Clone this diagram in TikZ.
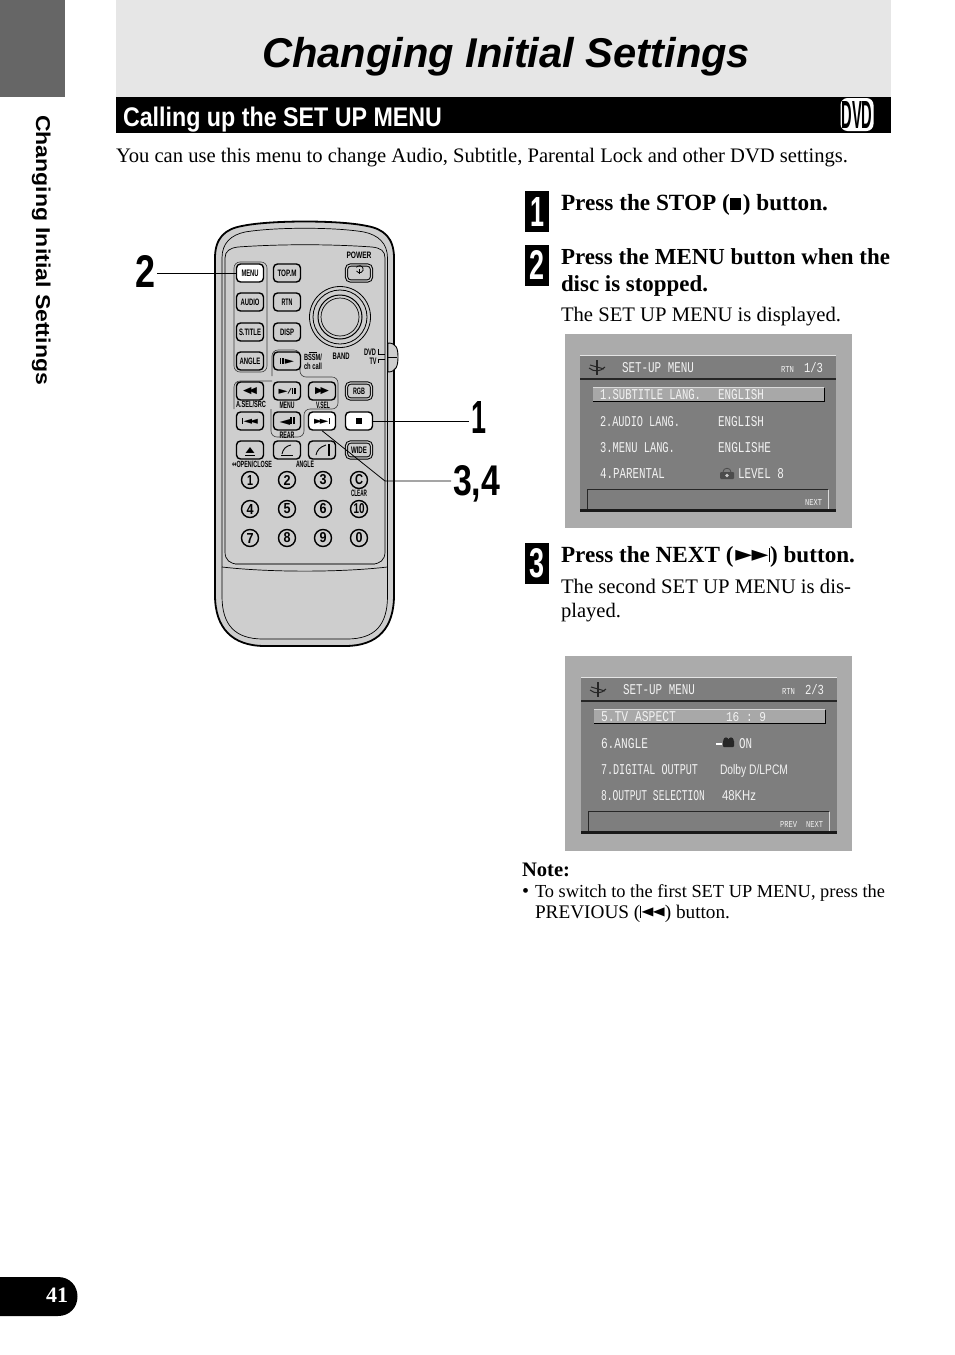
\documentclass[tikz,border=0pt]{standalone}
\usepackage{fontspec}
\usepackage{graphicx}
\setmainfont{Liberation Serif}
\setsansfont{Liberation Sans}
\setmonofont{Liberation Mono}
\newfontfamily\sym{DejaVu Sans}
\definecolor{tabgray}{HTML}{666666}
\definecolor{headgray}{HTML}{E6E6E6}
\definecolor{bodygray}{HTML}{CECECE}
\definecolor{scrouter}{HTML}{ABABAB}
\definecolor{scrinner}{HTML}{7E7E7E}
\definecolor{scrbar}{HTML}{A8A8A8}
\definecolor{scrtext}{HTML}{F2F2F2}
\tikzset{
  txt/.style={anchor=base west,inner sep=0pt,outer sep=0pt},
  scr/.style={txt,text=scrtext},
  btn/.style={draw=black,line width=1.4pt,rounded corners=4pt,fill=bodygray,minimum width=27pt,minimum height=18pt,inner sep=0pt},
  btnw/.style={btn,fill=white},
  btnd/.style={btn,double=bodygray,double distance=1.2pt,line width=1pt,minimum width=25pt,minimum height=16pt},
  num/.style={circle,draw=black,line width=1.4pt,fill=bodygray,minimum size=17pt,inner sep=0pt},
  lab/.style={inner sep=0pt,outer sep=0pt},
  grp/.style={draw=black!75,line width=.6pt,rounded corners=6pt},
  badge/.style={fill=black,text=white,minimum width=24pt,minimum height=41pt,inner sep=0pt},
  lead/.style={draw=black,line width=.8pt},
  rem/.style={draw=black,line width=.7pt}
}
% name x y width text : proportional fit
\newcommand{\W}[5]{\node[txt] (#1) at (#2,#3) {\resizebox{#4pt}{!}{#5}};}
% name x y width height text, on the screens, monospaced and proportional
\newcommand{\Sc}[6]{\node[scr] (#1) at (#2,#3) {\resizebox{#4pt}{#5pt}{\ttfamily #6}};}
\newcommand{\Sp}[6]{\node[scr] (#1) at (#2,#3) {\resizebox{#4pt}{#5pt}{\sffamily #6}};}
% small bold remote text
\newcommand{\bt}[2]{\resizebox{#1pt}{6.5pt}{\sffamily\bfseries #2}}
\newcommand{\ic}[3]{\resizebox{#1pt}{#2pt}{\sym #3}}
\newcommand{\dg}[2]{\resizebox{#1pt}{10pt}{\sffamily\bfseries #2}}
\newcommand{\scrframe}{%
  \fill[scrinner] (580,355) rectangle (836,512);
  \draw[white!90!black,line width=1.5pt] (580,355.5) -- (836,355.5);
  \draw[black!85,line width=2pt] (580,379) -- (836,379);
  \fill[scrbar] (593,387) rectangle (824,401);
  \draw[white!85!black,line width=.8pt] (593,387) -- (824,387);
  \draw[black,line width=1.4pt] (593,401.5) -- (824.5,401.5) -- (824.5,388);
  \draw[black!85,line width=1pt] (587.5,509) -- (587.5,489.5) -- (828,489.5);
  \draw[white!85!black,line width=.8pt] (828.5,489.5) -- (828.5,509);
  \draw[black!90,line width=2.5pt] (580,510.5) -- (836,510.5);
  % disc emblem
  \draw[black!85,line width=1pt] (589,368) .. controls (594,372) and (600,372) .. (605,367);
  \draw[black!85,line width=1.2pt] (597,360) -- (597,375);
  \draw[black!85,line width=1pt] (590,365) -- (604,369);
}
\begin{document}
\begin{tikzpicture}[x=1pt,y=-1pt]
\useasboundingbox (0,0) rectangle (954,1355);
\fill[white] (0,0) rectangle (954,1355);
% page furniture
\fill[tabgray] (0,0) rectangle (65,97);
\fill[headgray] (116,0) rectangle (891,97);
\fill[black] (116,97) rectangle (891,133);
\W{title}{262}{67}{488}{\sffamily\bfseries\itshape Changing Initial Settings}
\node[txt,text=white] (heading) at (123,126) {\resizebox{319pt}{19.5pt}{\sffamily\bfseries Calling up the SET UP MENU}};
\node[fill=white,rounded corners=7pt,minimum width=33pt,minimum height=33pt,inner sep=0pt] (dvdlogo) at (857,114.5) {\resizebox{31pt}{27pt}{\sffamily\bfseries DVD}};
\node[txt,rotate=-90] (side) at (36,115) {\resizebox{270pt}{14.5pt}{\sffamily\bfseries Changing Initial Settings}};
\fill[black] (0,1277) -- (58,1277) .. controls (70,1277) and (77.5,1286) .. (77.5,1296.5) .. controls (77.5,1307) and (70,1316) .. (58,1316) -- (0,1316) -- cycle;
\node[lab,text=white] (pageno) at (57,1295) {\resizebox{22pt}{!}{\bfseries 41}};
\W{intro}{116}{162}{732}{You can use this menu to change Audio, Subtitle, Parental Lock and other DVD settings.}
% steps
\node[badge] (b1) at (537,211.5) {\resizebox{14pt}{29pt}{\sffamily\bfseries 1}};
\node[badge] (b2) at (537,265) {\resizebox{15pt}{29pt}{\sffamily\bfseries 2}};
\node[badge] (b3) at (537,563.5) {\resizebox{15pt}{29pt}{\sffamily\bfseries 3}};
\W{s1}{561}{210}{267}{\bfseries Press the STOP (\rule{.5em}{.5em}\kern.06em) button.}
\W{s2a}{561}{264}{329}{\bfseries Press the MENU button when the}
\W{s2b}{561}{291}{147}{\bfseries disc is stopped.}
\W{s2c}{561}{321}{280}{The SET UP MENU is displayed.}
\W{s3a}{561}{562}{294}{\bfseries Press the NEXT ({\sym\kern.08em\raisebox{.12em}{\scalebox{.95}[.62]{▶}}\kern-.03em\raisebox{.12em}{\scalebox{.95}[.62]{▶}}\kern.02em\rule[.02em]{.05em}{.6em}}) button.}
\W{s3b}{561}{593}{290}{The second SET UP MENU is dis-}
\W{s3c}{561}{617}{60}{played.}
\W{note}{522}{876}{48}{\bfseries Note:}
\W{bullet}{522}{897}{7}{•}
\W{n1}{535}{897}{350}{To switch to the first SET UP MENU, press the}
\W{n2}{535}{918}{195}{PREVIOUS ({\sym\rule[.02em]{.05em}{.6em}\kern.02em\raisebox{.12em}{\scalebox{.8}[.62]{◀}}\kern-.03em\raisebox{.12em}{\scalebox{.8}[.62]{◀}}}) button.}
% screen one
\fill[scrouter] (565,334) rectangle (852,528);
\scrframe
\Sc{a0}{622}{372}{72}{10}{SET-UP MENU}
\Sc{a1}{781}{372}{13}{6}{RTN}
\Sc{a2}{804}{372}{19}{10}{1/3}
\Sc{a3}{600}{399}{101}{10}{1.SUBTITLE LANG.}
\Sc{a4}{718}{399}{46}{10}{ENGLISH}
\Sc{a5}{600}{426}{80}{10}{2.AUDIO LANG.}
\Sc{a6}{718}{426}{46}{10}{ENGLISH}
\Sc{a7}{600}{452}{75}{10}{3.MENU LANG.}
\Sc{a8}{718}{452}{53}{10}{ENGLISHE}
\Sc{a9}{600}{478}{65}{10}{4.PARENTAL}
\Sc{a10}{738}{478}{46}{10}{LEVEL 8}
\Sc{a11}{805}{505}{17}{6}{NEXT}
\fill[black!70,rounded corners=1pt] (720,472) rectangle (734,479);
\draw[black!70,line width=.8pt] (723,472) .. controls (723,467) and (731,467) .. (731,472);
\fill[white!80!black] (727,475.5) circle[radius=1.8pt];
% screen two
\fill[scrouter] (565,656) rectangle (852,851);
\begin{scope}[shift={(1,322)}]
\scrframe
\end{scope}
\Sc{c0}{623}{694}{72}{10}{SET-UP MENU}
\Sc{c1}{782}{694}{13}{6}{RTN}
\Sc{c2}{805}{694}{19}{10}{2/3}
\Sc{c3}{601}{721}{75}{10}{5.TV ASPECT}
\Sc{c4}{726}{721}{40}{9}{16 : 9}
\Sc{c5}{601}{748}{47}{10}{6.ANGLE}
\Sc{c6}{739}{748}{13}{10}{ON}
\Sc{c7}{601}{774}{97}{10}{7.DIGITAL OUTPUT}
\Sp{c8}{720}{774}{68}{10}{Dolby D/LPCM}
\Sc{c9}{601}{800}{104}{10}{8.OUTPUT SELECTION}
\Sp{c10}{722}{800}{34}{10}{48KHz}
\Sc{c11}{780}{827}{17}{6}{PREV}
\Sc{c12}{806}{827}{17}{6}{NEXT}
\fill[black!85,rounded corners=1pt] (723,740) rectangle (734,747);
\fill[black!85] (726,740) circle[radius=2.6pt] (731,740) circle[radius=2.6pt];
\fill[white] (716,743) rectangle (722,744.5);
% remote body
\path[fill=bodygray,draw=black,line width=1.8pt]
  (215,595) -- (215,258) .. controls (215,238) and (225,229) .. (242,226) .. controls (270,220) and (340,220) .. (367,226)
  .. controls (384,229) and (394,238) .. (394,258) -- (394,595) .. controls (394,628) and (378,646) .. (345,646)
  -- (265,646) .. controls (232,646) and (215,628) .. (215,595) -- cycle;
\draw[rem] (222,567) -- (222,258) .. controls (222,243) and (231,235) .. (245,232) .. controls (275,227) and (335,227) .. (364,232)
  .. controls (378,235) and (387.5,243) .. (387.5,258) -- (387.5,567);
\draw[rem] (225,552) -- (225,258) .. controls (225,251) and (230,248) .. (238,247) .. controls (280,244) and (330,244) .. (372,247)
  .. controls (381,248) and (385,251) .. (385,258) -- (385,552) .. controls (385,560) and (380,564) .. (372,564)
  -- (238,564) .. controls (230,564) and (225,560) .. (225,552) -- cycle;
\draw[black!55,line width=1.3pt] (235,564) -- (375,564);
\draw[rem] (222,567) .. controls (270,572.5) and (340,572.5) .. (387.5,567);
\draw[rem] (222,567) -- (222,596) .. controls (222,625) and (235,639) .. (263,639) -- (347,639) .. controls (375,639) and (387.5,625) .. (387.5,596) -- (387.5,567);
% switch
\path[fill=bodygray,draw=black,line width=.9pt] (388,343) .. controls (396,343) and (398,348) .. (398,357) .. controls (398,366) and (396,372) .. (388,372) -- cycle;
\draw[black,line width=1pt] (388,357) -- (397,357);
% group outlines
\draw[grp] (234,262) rectangle (267,372);
\draw[grp] (272,376) -- (272,350) -- (300,350) -- (300,377) -- (338,377) -- (338,409) -- (304,409) -- (304,437) -- (271,437) -- (271,409);
\draw[grp] (234,409) -- (234,381) -- (272,381);
% buttons
\node[btnw] (menu) at (250,273) {\bt{17}{MENU}};
\node[btn] (topm) at (287,273) {\bt{19}{TOP.M}};
\node[btnd] (power) at (359,273) {};
\draw[black,line width=.8pt] (356.5,271) arc[start angle=-150,end angle=150,radius=3.6pt];
\draw[black,line width=.8pt] (359.5,269) -- (359.5,273.5);
\node[btn] (audio) at (250,302) {\bt{19}{AUDIO}};
\node[btn] (rtn) at (287,302) {\bt{11}{RTN}};
\node[btn] (stitle) at (250,332) {\bt{22}{S.TITLE}};
\node[btn] (disp) at (287,332) {\bt{14}{DISP}};
\node[btn] (angle) at (250,361) {\bt{21}{ANGLE}};
\node[btn] (slow) at (287,361) {\ic{14}{6}{\rule{.12em}{.9em}\kern.08em\rule{.12em}{.9em}\kern.08em▶}};
\node[btn] (rew) at (250,391) {\ic{14}{6}{◀\kern-.25em◀}};
\node[btn] (play) at (287,391) {\ic{17}{6}{▶/\rule{.12em}{.9em}\kern.08em\rule{.12em}{.9em}}};
\node[btn] (ff) at (322,391) {\ic{14}{6}{▶\kern-.25em▶}};
\node[btnd] (rgb) at (359,391) {\bt{12}{RGB}};
\node[btn] (prev) at (250,421) {\ic{16}{6}{\rule{.1em}{.9em}\kern.05em◀\kern-.25em◀}};
\node[btn] (stepb) at (287,421) {\ic{15}{7}{◀\rule{.12em}{.9em}\kern.08em\rule{.12em}{.9em}}};
\node[btnw] (next) at (322,421) {\ic{16}{6}{▶\kern-.25em▶\kern.05em\rule{.1em}{.9em}}};
\node[btnw] (stop) at (359,421) {\rule{6pt}{6pt}};
\node[btn] (eject) at (250,450) {\ic{9}{5}{▲}};
\node[btn] (angl) at (287,450) {};
\node[btn] (angr) at (322,450) {};
\node[btnd] (wide) at (359,450) {\bt{16}{WIDE}};
\draw[black,line width=1pt] (245,455) -- (255,455);
\draw[black,line width=.9pt] (281,455) -- (293,455);
\draw[black,line width=.9pt] (282,454) .. controls (283,449) and (286,446) .. (291,445);
\draw[black,line width=.9pt] (316,455) .. controls (317,450) and (320,447) .. (326,445);
\draw[black,line width=1.4pt] (329,444) -- (329,456);
% number keys
\node[num] (k1) at (250,480) {\dg{6}{1}};
\node[num] (k2) at (287,480) {\dg{7}{2}};
\node[num] (k3) at (323,480) {\dg{7}{3}};
\node[num] (kc) at (359,480) {\dg{8}{C}};
\node[num] (k4) at (250,509) {\dg{7}{4}};
\node[num] (k5) at (287,509) {\dg{7}{5}};
\node[num] (k6) at (323,509) {\dg{7}{6}};
\node[num] (k10) at (359,509) {\dg{11}{10}};
\node[num] (k7) at (250,538) {\dg{7}{7}};
\node[num] (k8) at (287,538) {\dg{7}{8}};
\node[num] (k9) at (323,538) {\dg{7}{9}};
\node[num] (k0) at (359,538) {\dg{7}{0}};
% dial
\node[circle,draw=black,line width=.8pt,minimum size=61pt,inner sep=0pt] (dial1) at (340,317) {};
\node[circle,draw=black,line width=.8pt,minimum size=54pt,inner sep=0pt] (dial2) at (340,317) {};
\node[circle,draw=black,line width=1pt,minimum size=44pt,inner sep=0pt] (dial3) at (340,317) {};
\node[circle,draw=black,line width=.7pt,minimum size=38pt,inner sep=0pt] (dial4) at (340,317) {};
% remote labels
\node[lab] (lpower) at (359,255.5) {\bt{25}{POWER}};
\node[lab] (lband) at (341,356) {\bt{17}{BAND}};
\node[lab] (lbssm) at (313,357.5) {\bt{18}{BSSM/}};
\node[lab] (lcall) at (313,366) {\bt{18}{ch call}};
\draw[black,line width=.5pt] (309,352) -- (317,352);
\node[lab] (ldvd) at (370,352) {\bt{12}{DVD}};
\node[lab] (ltv) at (373,361) {\bt{7}{TV}};
\draw[black,line width=.7pt] (378,349) -- (378,354) -- (385,354);
\draw[black,line width=.7pt] (385,359) -- (378,359) -- (378,363);
\node[lab] (lasel) at (251,404) {\bt{30}{A.SEL/SRC}};
\node[lab] (lmenu) at (287,405) {\bt{15}{MENU}};
\node[lab] (lvsel) at (323,405) {\bt{14}{V.SEL}};
\node[lab] (lrear) at (287,435) {\bt{15}{REAR}};
\node[lab] (lopen) at (252,464) {\bt{40}{\sym↔\sffamily OPEN/CLOSE}};
\node[lab] (langle) at (305,464) {\bt{18}{ANGLE}};
\node[lab] (lclear) at (359,493) {\bt{16}{CLEAR}};
% callouts
\node[txt] (call2) at (135,287) {\resizebox{20pt}{32pt}{\sffamily\bfseries 2}};
\node[txt] (call1) at (471,433) {\resizebox{15pt}{32pt}{\sffamily\bfseries 1}};
\node[txt] (call34) at (453,495) {\resizebox{47pt}{30pt}{\sffamily\bfseries 3,4}};
\coordinate (c2) at (157,273);
\coordinate (c1) at (469,421);
\coordinate (c34) at (451,481);
\coordinate (c34b) at (385,481);
\draw[lead] (c2) -- (menu.west);
\draw[lead] (c1) -- (stop.east);
\draw[lead] (c34) -- (c34b) -- (next.south);
\end{tikzpicture}
\end{document}
